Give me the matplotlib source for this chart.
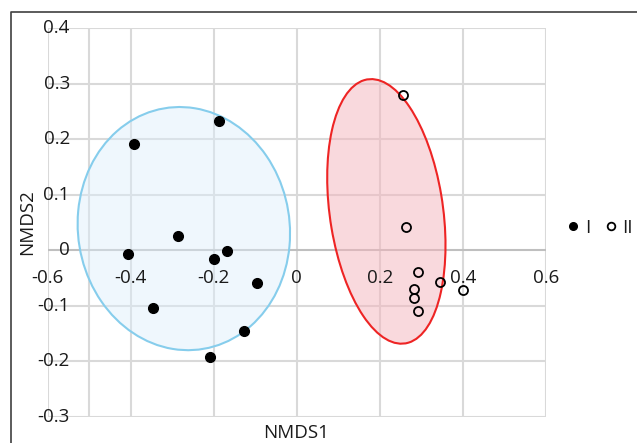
import matplotlib
matplotlib.use("Agg")
from matplotlib import pyplot as plt
from matplotlib.patches import Ellipse
from matplotlib.lines import Line2D

plt.rcParams['font.family'] = ['Open Sans', 'DejaVu Sans']

# group I (filled) NMDS scores
group1_x = [-0.392, -0.188, -0.287, -0.407, -0.200, -0.169, -0.095, -0.346, -0.126, -0.209]
group1_y = [0.191, 0.233, 0.026, -0.007, -0.016, -0.001, -0.059, -0.105, -0.146, -0.192]

# group II (open) NMDS scores
group2_x = [0.257, 0.264, 0.292, 0.346, 0.401, 0.282, 0.282, 0.292]
group2_y = [0.279, 0.041, -0.039, -0.057, -0.071, -0.070, -0.086, -0.110]

# confidence ellipses: center, width, height, angle
ellipse1 = dict(xy=(-0.272, 0.039), width=0.513, height=0.437, angle=-7.1)
ellipse2 = dict(xy=(0.216, 0.070), width=0.271, height=0.485, angle=12.7)

x_ticks = [-0.6, -0.4, -0.2, 0, 0.2, 0.4, 0.6]
y_ticks = [-0.3, -0.2, -0.1, 0, 0.1, 0.2, 0.3, 0.4]
x_tick_labels = ["-0.6", "-0.4", "-0.2", "0", "0.2", "0.4", "0.6"]
y_tick_labels = ["-0.3", "-0.2", "-0.1", "0", "0.1", "0.2", "0.3", "0.4"]

txt_col = "#1a1a1a"
fs = 13.5

fig = plt.figure(figsize=(6.37, 4.43), dpi=100)
ax = fig.add_axes([0.0749, 0.0594, 0.7818, 0.8767])
ax.set_xlim(-0.6, 0.6)
ax.set_ylim(-0.3, 0.4)
ax.set_xticks([])
ax.set_yticks([])
for s in ax.spines.values():
    s.set_visible(False)

## grid
grid_col = "#d9d9d9"
for xv in x_ticks:
    ax.axvline(xv, color=grid_col, lw=1.5, zorder=0)
ax.axvline(-0.5, color=grid_col, lw=1.5, zorder=0)
for yv in y_ticks:
    ax.axhline(yv, color="#bfbfbf" if yv == 0 else grid_col, lw=1.5, zorder=0)

## ellipses
ax.add_patch(Ellipse(**ellipse1, facecolor="#ddeefb", alpha=0.45, edgecolor="none", zorder=1))
ax.add_patch(Ellipse(**ellipse1, facecolor="none", edgecolor="#86cdec", lw=1.5, zorder=2))
ax.add_patch(Ellipse(**ellipse2, facecolor="#f5b5bd", alpha=0.5, edgecolor="none", zorder=1))
ax.add_patch(Ellipse(**ellipse2, facecolor="none", edgecolor="#ee2424", lw=1.5, zorder=2))

## points
ax.plot(group1_x, group1_y, 'o', color="black", markersize=7, linestyle="none", zorder=3, label="I")
ax.plot(group2_x, group2_y, 'o', markerfacecolor="none", markeredgecolor="black", markeredgewidth=1.3,
        markersize=6.5, linestyle="none", zorder=3, label="II")

## tick labels
for xv, lab in zip(x_ticks, x_tick_labels):
    ax.annotate(lab, (xv, 0), xytext=(0, -20), textcoords="offset points", ha="center", va="center",
                fontsize=fs, color=txt_col, annotation_clip=False)
for yv, lab in zip(y_ticks, y_tick_labels):
    ax.annotate(lab, (-0.5, yv), xytext=(-14, 0), textcoords="offset points", ha="right", va="center",
                fontsize=fs, color=txt_col, annotation_clip=False)

fig.text(296 / 637, 1 - 433 / 443, "NMDS1", ha="center", va="center", fontsize=fs, color=txt_col)
fig.text(27 / 637, 1 - 222 / 443, "NMDS2", ha="center", va="center", rotation=90, fontsize=fs, color=txt_col)

handles = [Line2D([], [], marker='o', color="black", markersize=5.5, linestyle="none"),
           Line2D([], [], marker='o', markerfacecolor="none", markeredgecolor="black", markersize=5.5,
                  markeredgewidth=1.3, linestyle="none")]
ax.legend(handles, ["I", "II"], ncol=2, frameon=False, loc="center", bbox_to_anchor=(1.109, 0.486),
          handlelength=0.6, handletextpad=0.3, columnspacing=0.8, fontsize=fs, borderaxespad=0,
          labelcolor=txt_col)

## outer frame
fig.add_artist(Line2D([11 / 637, 11 / 637, 1.0], [0.0, 1 - 12 / 443, 1 - 12 / 443], color="#404040", lw=1.2))

fig.savefig("out.png", dpi=100)
